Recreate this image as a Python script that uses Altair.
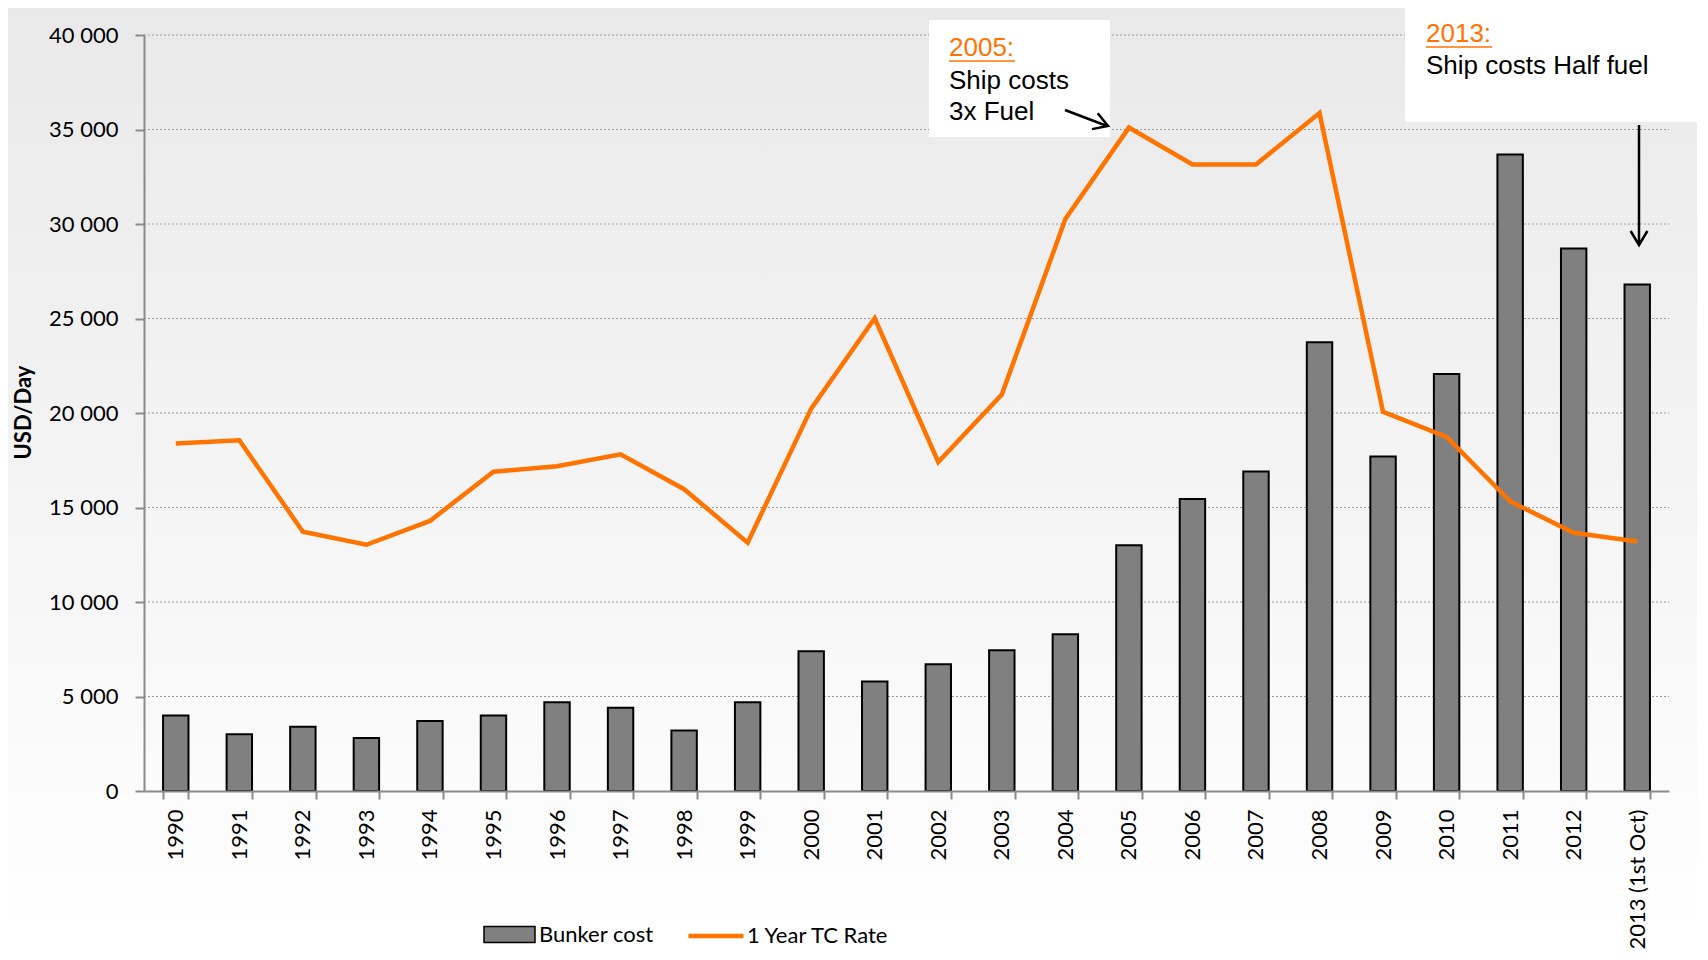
import altair as alt
import pandas as pd

# ---------------- data ----------------
years = ["1990", "1991", "1992", "1993", "1994", "1995", "1996", "1997", "1998",
         "1999", "2000", "2001", "2002", "2003", "2004", "2005", "2006", "2007",
         "2008", "2009", "2010", "2011", "2012", "2013 (1st Oct)"]
bunker_cost = [4000, 3000, 3400, 2800, 3700, 4000, 4700, 4400, 3200, 4700,
               7400, 5800, 6700, 7450, 8300, 13000, 15450, 16900, 23750, 17700,
               22070, 33680, 28700, 26800]
tc_rate = [18390, 18560, 13720, 13030, 14290, 16890, 17180, 17810, 15970, 13140,
           20230, 25010, 17410, 20980, 30260, 35100, 33150, 33150, 35870, 20060,
           18730, 15330, 13660, 13200]
y_ticks = [0, 5000, 10000, 15000, 20000, 25000, 30000, 35000, 40000]
series_names = ["Bunker cost", "1 Year TC Rate"]

df = pd.DataFrame({"year": years, "bunker": bunker_cost, "tc": tc_rate})
one = pd.DataFrame({"k": [0]})

W, H = 1525, 756
PAD_L, PAD_T, PAD_R, PAD_B = 136, 27, 28, 160

AXIS_GREY = "#8a8a8a"
ORANGE = "#ff7300"

yscale = alt.Scale(domain=[0, 40000], nice=False, zero=True)
xscale = alt.Scale(domain=years, paddingInner=0.6, paddingOuter=0.3)

yaxis = alt.Axis(
    values=y_ticks, labelExpr="replace(format(datum.value, ','), ',', ' ')",
    labelFont="Lato", labelFontSize=22, labelColor="black", labelPadding=17,
    domainColor=AXIS_GREY, domainWidth=2, tickColor=AXIS_GREY, tickWidth=2,
    tickSize=9, grid=False, zindex=1,
    title="USD/Day", titleFont="Lato", titleFontSize=22, titleFontWeight="bold",
    titleColor="black", titleX=-121, titleY=377, titleAngle=270,
    titleAlign="center", titleBaseline="middle",
)
xaxis = alt.Axis(
    title=None, labelAngle=270, labelFont="Lato", labelFontSize=22,
    labelColor="black", labelPadding=10, labelAlign="right",
    labelBaseline="middle", labelOverlap=False, tickBand="extent",
    domainColor=AXIS_GREY, domainWidth=2, tickColor=AXIS_GREY, tickWidth=2,
    tickSize=8, grid=False, zindex=1,
)

# background gradient covering whole canvas
bg = alt.Chart(one).mark_rect(
    fill=alt.LinearGradient(
        gradient="linear", x1=0, x2=0, y1=0, y2=1,
        stops=[alt.GradientStop(color="#e9e9e9", offset=0),
               alt.GradientStop(color="#ffffff", offset=1)],
    )
).encode(x=alt.value(-PAD_L), x2=alt.value(W + PAD_R),
         y=alt.value(-PAD_T), y2=alt.value(H + PAD_B))

grid = alt.Chart(pd.DataFrame({"v": y_ticks[1:]})).mark_rule(
    color="#9a9a9a", strokeDash=[2, 2], strokeWidth=1
).encode(
    y=alt.Y("v:Q", scale=yscale, axis=yaxis),
    x=alt.value(0), x2=alt.value(W),
)

bars = alt.Chart(df).transform_calculate(series="'Bunker cost'").mark_bar(
    stroke="black", strokeWidth=2
).encode(
    x=alt.X("year:N", sort=years, scale=xscale, axis=xaxis),
    y=alt.Y("bunker:Q", scale=yscale, axis=yaxis),
    fill=alt.Fill("series:N", scale=alt.Scale(domain=[series_names[0]], range=["#808080"]),
                  legend=alt.Legend(
                      title=None, orient="none", legendX=339, legendY=873,
                      symbolType="M-1,-0.31L1,-0.31L1,0.31L-1,0.31Z", symbolSize=2601,
                      symbolStrokeColor="black", symbolStrokeWidth=1.5,
                      symbolFillColor="#808080", symbolOpacity=1,
                      labelFont="Lato", labelFontSize=22, labelColor="black",
                      labelOffset=3, padding=0)),
)

line = alt.Chart(df).transform_calculate(series2="'1 Year TC Rate'").mark_line(
    strokeWidth=4.5, strokeJoin="miter"
).encode(
    x=alt.X("year:N", sort=years, scale=xscale, axis=xaxis),
    y=alt.Y("tc:Q", scale=yscale, axis=yaxis),
    stroke=alt.Stroke("series2:N", scale=alt.Scale(domain=[series_names[1]], range=[ORANGE]),
                      legend=alt.Legend(
                          title=None, orient="none", legendX=542, legendY=871,
                          symbolType="stroke", symbolSize=3025, symbolStrokeWidth=4.5,
                          labelFont="Lato", labelFontSize=22, labelColor="black",
                          labelOffset=1, padding=0)),
)


def box(x, x2, y, y2):
    return alt.Chart(one).mark_rect(fill="white").encode(
        x=alt.value(x), x2=alt.value(x2), y=alt.value(y), y2=alt.value(y2))


def label(txt, x, y, color="black"):
    return alt.Chart(one).mark_text(
        text=txt, align="left", baseline="middle", font="Liberation Sans",
        fontSize=26, color=color
    ).encode(x=alt.value(x), y=alt.value(y))


def seg(x, x2, y, y2, color="black", w=2.5):
    return alt.Chart(one).mark_rule(color=color, strokeWidth=w).encode(
        x=alt.value(x), x2=alt.value(x2), y=alt.value(y), y2=alt.value(y2))


def head(x, y, angle):
    return alt.Chart(one).mark_point(
        shape="M-1,-0.6L0,0L-1,0.6", size=784, filled=False, stroke="black",
        strokeWidth=2.5, angle=angle, opacity=1
    ).encode(x=alt.value(x), y=alt.value(y))


annot = [
    box(785, 966, -15, 102),
    label("2005:", 805, 13, ORANGE),
    seg(805, 871, 26, 26, ORANGE, 1.5),
    label("Ship costs", 805, 46),
    label("3x Fuel", 805, 77),
    seg(921, 963, 75, 91),
    head(964, 91, 20),
    box(1261, W + PAD_R, -PAD_T, 87),
    label("2013:", 1282, -1, ORANGE),
    seg(1282, 1348, 12, 12, ORANGE, 1.5),
    label("Ship costs Half fuel", 1282, 31),
    seg(1495, 1495, 90, 209),
    head(1495, 210, 90),
]

chart = alt.layer(bg, grid, bars, line, *annot).properties(
    width=W, height=H,
    autosize=alt.AutoSizeParams(type="none"),
    padding={"left": PAD_L, "top": PAD_T, "right": PAD_R, "bottom": PAD_B},
).configure_view(strokeWidth=0)

chart.save("out.html", embed_options={"renderer": "svg", "actions": False})
